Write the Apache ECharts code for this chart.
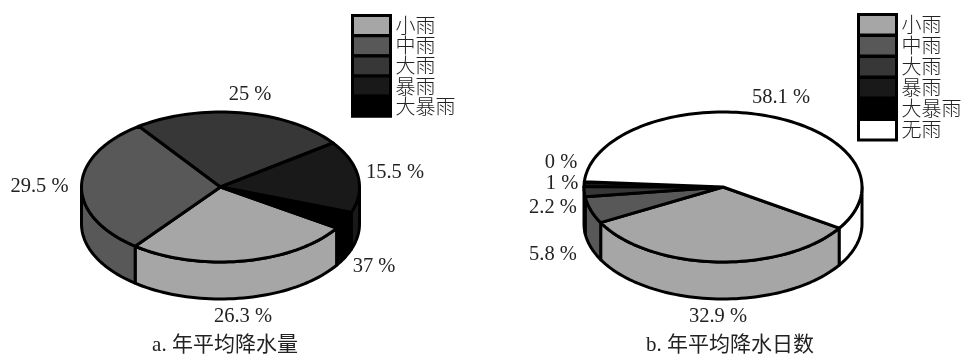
<!DOCTYPE html>
<html>
<head>
<meta charset="utf-8">
<style>html,body{margin:0;padding:0;background:#fff}#chart{width:965px;height:356px}</style>
<script src="https://cdn.jsdelivr.net/npm/echarts@6/dist/echarts.min.js"></script>
</head>
<body>
<div id="chart"></div>
<script>
// Rain classes, drawn clockwise from the shared start angle
const categories = ['小雨', '中雨', '大雨', '暴雨', '大暴雨', '无雨'];
const amountShares = [26.3, 29.5, 25, 15.5, 3.7];
const amountLabels = ['26.3 %', '29.5 %', '25 %', '15.5 %', '37 %'];
const dayShares = [32.9, 5.8, 2.2, 1, 0, 58.1];
const dayLabels = ['32.9 %', '5.8 %', '2.2 %', '1 %', '0 %', '58.1 %'];
const amountCaption = 'a. 年平均降水量';
const dayCaption = 'b. 年平均降水日数';

const palette = ['#a6a6a6', '#585858', '#373737', '#191919', '#000000', '#ffffff'];
const SERIF = '"Liberation Serif","Noto Sans CJK SC"';
const START_DEG = 33.2;

// Disc geometry and the centre of each value label
const amountDisc = {
  cx: 220.5, cy: 187, rx: 139, ry: 75, depth: 37,
  labelAt: [[243, 317], [39.5, 187], [250, 95], [395, 173], [374, 267]]
};
const dayDisc = {
  cx: 723, cy: 187, rx: 139, ry: 75, depth: 37,
  labelAt: [[718, 317], [553, 255], [553, 208], [562, 184], [561, 163], [781, 98]]
};

function rim(disc, fromDeg, toDeg, dy) {
  const pts = [];
  const steps = Math.max(1, Math.ceil(Math.abs(toDeg - fromDeg) / 2));
  for (let i = 0; i <= steps; i++) {
    const t = (fromDeg + (toDeg - fromDeg) * i / steps) * Math.PI / 180;
    pts.push([disc.cx + disc.rx * Math.cos(t), disc.cy + disc.ry * Math.sin(t) + dy]);
  }
  return pts;
}

// Parts of a slice's rim that face the viewer (the lower half of the ellipse)
function frontRanges(a0, a1) {
  const out = [];
  [[0, 180], [360, 540]].forEach(function (r) {
    const s = Math.max(a0, r[0]), e = Math.min(a1, r[1]);
    if (e > s) out.push([s, e]);
  });
  return out;
}

function discSeries(shares, labels, disc) {
  let before = 0;
  return shares.map(function (share, i) {
    const startDeg = START_DEG + before * 3.6;
    before += share;
    return {
      type: 'custom',
      name: categories[i],
      coordinateSystem: 'none',
      silent: true,
      animation: false,
      itemStyle: { color: palette[i] },
      data: [[share]],
      renderItem: function (params, api) {
        const a0 = startDeg;
        const a1 = startDeg + api.value(0) * 3.6;
        const fill = palette[i];
        const edge = { stroke: '#000', lineWidth: 3, lineJoin: 'round' };
        const children = frontRanges(a0, a1).map(function (r) {
          const pts = rim(disc, r[0], r[1], 0).concat(rim(disc, r[1], r[0], disc.depth));
          return {
            type: 'polygon', z2: 1,
            shape: { points: pts },
            style: Object.assign({ fill: fill }, edge)
          };
        });
        children.push({
          type: 'polygon', z2: 2,
          shape: { points: [[disc.cx, disc.cy]].concat(rim(disc, a0, a1, 0)) },
          style: Object.assign({ fill: fill }, edge)
        });
        children.push({
          type: 'text', z2: 3,
          style: {
            text: labels[i],
            x: disc.labelAt[i][0], y: disc.labelAt[i][1],
            textAlign: 'center', textVerticalAlign: 'middle',
            fontFamily: SERIF, fontSize: 20.5, fill: '#222'
          }
        });
        return { type: 'group', children: children };
      }
    };
  });
}

// The text box is taller than a swatch, so a negative gap keeps the swatches touching
function rainLegend(names, left, top, itemHeight, itemGap) {
  return {
    data: names,
    orient: 'vertical',
    left: left, top: top,
    padding: 0, itemGap: itemGap,
    itemWidth: 38, itemHeight: itemHeight,
    icon: 'rect',
    selectedMode: false,
    itemStyle: { borderColor: '#000', borderWidth: 3 },
    textStyle: { fontFamily: '"Noto Sans CJK SC"', fontWeight: 300, fontSize: 20, color: '#222', lineHeight: itemHeight }
  };
}

const captionStyle = { fontFamily: SERIF, fontWeight: 'normal', fontSize: 21, color: '#222' };

const chart = echarts.init(document.getElementById('chart'), null, { renderer: 'canvas' });
chart.setOption({
  animation: false,
  backgroundColor: '#fff',
  title: [
    { text: amountCaption, left: 225, top: 335, textAlign: 'center', padding: 0, textStyle: captionStyle },
    { text: dayCaption, left: 730, top: 335, textAlign: 'center', padding: 0, textStyle: captionStyle }
  ],
  legend: [
    rainLegend(categories.slice(0, 5), 351, 14, 20, -2.8),
    rainLegend(categories, 857, 13, 20.5, -2.5)
  ],
  series: discSeries(amountShares, amountLabels, amountDisc)
    .concat(discSeries(dayShares, dayLabels, dayDisc))
});
</script>
</body>
</html>
